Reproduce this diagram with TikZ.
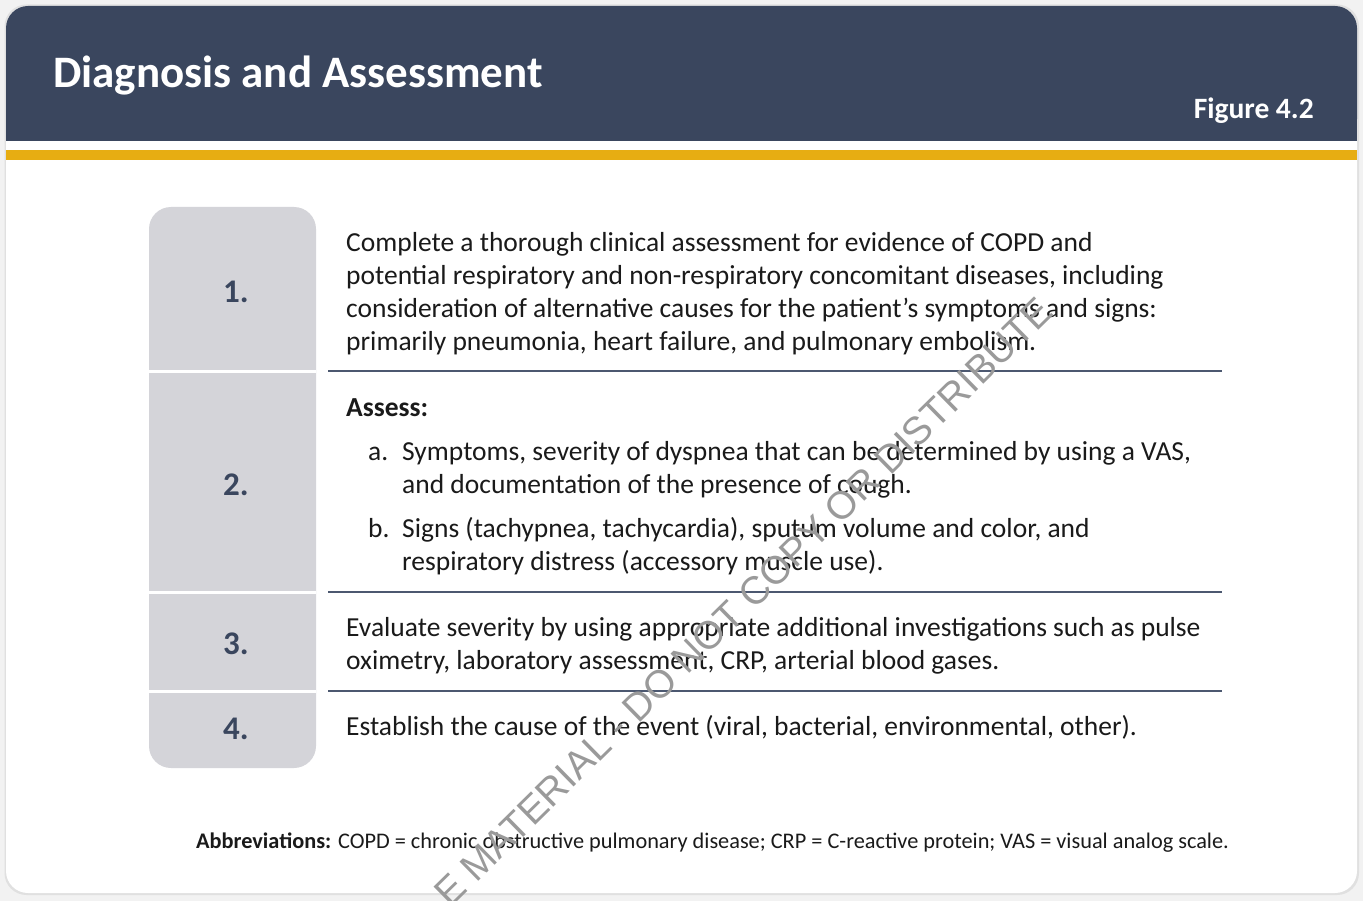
\documentclass[tikz,border=0pt]{standalone}
\usepackage{fontspec}
\setmainfont{Carlito}
\newfontfamily\wmfont{Liberation Sans}
\definecolor{navy}{HTML}{3A465E}
\definecolor{gold}{HTML}{E7AD12}
\definecolor{boxgray}{HTML}{D4D4D9}
\definecolor{rulec}{HTML}{4C5870}
\definecolor{bodyc}{HTML}{1A1A1A}
\definecolor{bgc}{HTML}{F2F2F2}
\definecolor{wmgray}{HTML}{9A9A9A}
\tikzset{
  body/.style={anchor=base west, inner sep=0pt, text=bodyc, font=\fontsize{27.5}{33}\selectfont},
  numlbl/.style={anchor=base, inner sep=0pt, text=navy, font=\fontsize{33}{33}\selectfont\bfseries},
  rulel/.style={draw=rulec, line width=2.2pt},
  sepl/.style={draw=white, line width=3pt},
}
\newcommand{\lines}[1]{\parbox[t]{950pt}{\raggedright #1}}
\begin{document}
\begin{tikzpicture}[x=1pt,y=-1pt]
\useasboundingbox (0,0) rectangle (1363,901);
\fill[bgc] (0,0) rectangle (1363,901);
% card
\fill[black!12, rounded corners=22pt] (4.5,4.5) rectangle (1359,895);
\fill[white, rounded corners=22pt] (6,6) rectangle (1357,893);
% header
\fill[navy, rounded corners=22pt] (6,6) rectangle (1357,141);
\fill[navy] (6,60) rectangle (1357,141);
\fill[gold] (6,150) rectangle (1357,160);
\node[anchor=base west, inner sep=0pt, text=white, font=\fontsize{45}{54}\selectfont\bfseries] (title) at (53,88) {Diagnosis and Assessment};
\node[anchor=base east, inner sep=0pt, text=white, font=\fontsize{29.5}{33}\selectfont\bfseries] (fig) at (1314,119) {Figure 4.2};
% left column
\fill[boxgray, rounded corners=22pt] (149,207) rectangle (316,768);
\draw[sepl] (149,371) -- (316,371);
\draw[sepl] (149,592) -- (316,592);
\draw[sepl] (149,691) -- (316,691);
\node[numlbl] (n1) at (236,303) {1.};
\node[numlbl] (n2) at (236,495) {2.};
\node[numlbl] (n3) at (236,654) {3.};
\node[numlbl] (n4) at (236,739) {4.};
% rules
\draw[rulel] (328,371) -- (1222,371);
\draw[rulel] (328,592) -- (1222,592);
\draw[rulel] (328,691) -- (1222,691);
% texts
\node[body] (t1) at (346,251.5) {\lines{Complete a thorough clinical assessment for evidence of COPD and\\
potential respiratory and non-respiratory concomitant diseases, including\\
consideration of alternative causes for the patient’s symptoms and signs:\\
primarily pneumonia, heart failure, and pulmonary embolism.}};
\node[body, font=\fontsize{27.5}{33}\selectfont\bfseries] (t2) at (346,416.5) {Assess:};
\node[body] (t2al) at (368,460.5) {a.};
\node[body] (t2a) at (402,460.5) {\lines{Symptoms, severity of dyspnea that can be determined by using a VAS,\\
and documentation of the presence of cough.}};
\node[body] (t2bl) at (368,537.5) {b.};
\node[body] (t2b) at (402,537.5) {\lines{Signs (tachypnea, tachycardia), sputum volume and color, and\\
respiratory distress (accessory muscle use).}};
\node[body] (t3) at (346,636.5) {\lines{Evaluate severity by using appropriate additional investigations such as pulse\\
oximetry, laboratory assessment, CRP, arterial blood gases.}};
\node[body] (t4) at (346,735.5) {Establish the cause of the event (viral, bacterial, environmental, other).};
\node[body, font=\fontsize{22.3}{26}\selectfont] (abbr) at (196,848) {\textbf{Abbreviations:} COPD = chronic obstructive pulmonary disease; CRP = C-reactive protein; VAS = visual analog scale.};
% watermark
\node[anchor=base west, inner sep=0pt, rotate=44.5, text=wmgray, font=\wmfont\fontsize{39}{39}\selectfont] (wm) at (450,909) {E MATERIAL - DO NOT COPY OR DISTRIBUTE};
\end{tikzpicture}
\end{document}
